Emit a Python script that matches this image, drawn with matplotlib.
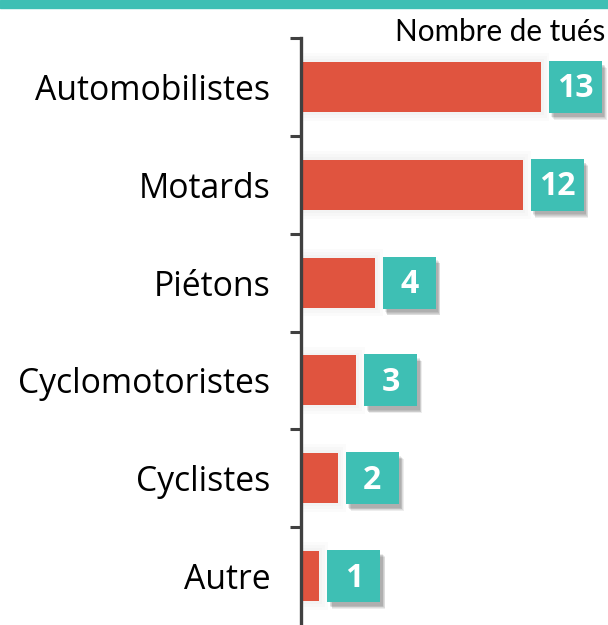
import matplotlib.pyplot as plt
from matplotlib.patches import Rectangle

categories = ["Automobilistes", "Motards", "Piétons", "Cyclomotoristes", "Cyclistes", "Autre"]
tues = [13, 12, 4, 3, 2, 1]

RED = "#E0543F"
TEAL = "#3EBFB4"

fig = plt.figure(figsize=(6.08, 6.25), dpi=100)
fig.patches.append(Rectangle((0, 1 - 8 / 625), 1, 8 / 625, transform=fig.transFigure,
                             color=TEAL, zorder=0))

ax = fig.add_axes([301 / 608, 0, 307 / 608, (625 - 38) / 625])
ypos = list(range(len(categories)))

# ombre légère autour des barres
for y, v in zip(ypos, tues):
    for k in range(4):
        ax.barh(y, v + 0.15 * k, height=0.51 + 0.06 * k, left=0, color="#000000",
                alpha=0.015, zorder=1, linewidth=0)
ax.barh(ypos, tues, height=0.51, color=RED, zorder=2)

# étiquettes de valeur dans des carrés
bw, bh = 53 / 18.46, 52 / 98
for y, v in zip(ypos, tues):
    x0 = v + 8 / 18.46
    for k in range(1, 6):
        ax.add_patch(Rectangle((x0 + 0.1 + 0.03 * k, y - bh / 2 + 0.03 + 0.008 * k), bw, bh,
                               color="#000000", alpha=0.07, zorder=3, linewidth=0))
    ax.add_patch(Rectangle((x0, y - bh / 2), bw, bh, color=TEAL, zorder=4, linewidth=0))
    ax.text(x0 + bw / 2, y + 0.02, str(v), ha="center", va="center", color="white",
            fontsize=23, fontweight="bold", family="Open Sans", zorder=5)

ax.set_xlim(0, 307 / 18.46)
ax.set_ylim(5.5, -0.5)
ax.set_yticks([y - 0.5 for y in ypos])
ax.set_yticklabels([])
ax.set_yticks(ypos, minor=True)
ax.set_yticklabels(categories, minor=True, fontsize=24.3, family="Open Sans")
ax.tick_params(axis="y", which="major", length=8, width=2.2, color="#404040")
ax.tick_params(axis="y", which="minor", length=0, pad=22)
ax.set_xticks([])
for s in ["top", "right", "bottom"]:
    ax.spines[s].set_visible(False)
ax.spines["left"].set_linewidth(2.4)
ax.spines["left"].set_color("#404040")

fig.text(605 / 608, 1 - 32 / 625, "Nombre de tués", ha="right", va="center",
         fontsize=21.3, family="Lato")

fig.savefig("out.png", dpi=100)
